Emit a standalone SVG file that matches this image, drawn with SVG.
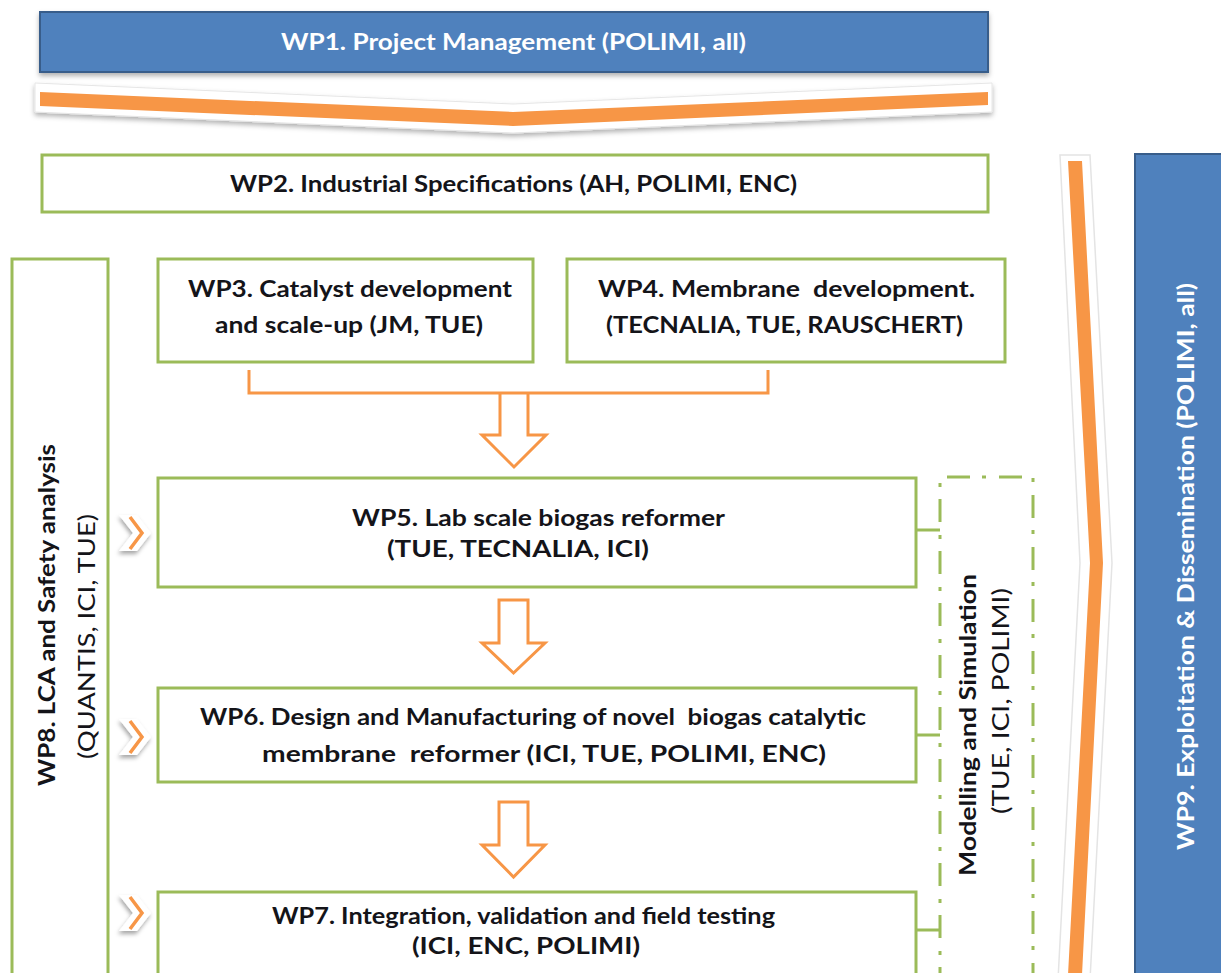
<svg xmlns="http://www.w3.org/2000/svg" width="1221" height="973" viewBox="0 0 1221 973">
  <defs>
    <filter id="shadow" x="-5%" y="-20%" width="110%" height="160%">
      <feDropShadow dx="0" dy="3" stdDeviation="2.5" flood-color="#000" flood-opacity="0.3"/>
    </filter>
    <filter id="chevShadow" x="-20%" y="-20%" width="150%" height="150%">
      <feDropShadow dx="-1" dy="3" stdDeviation="2" flood-color="#000" flood-opacity="0.35"/>
    </filter>
    <symbol id="chev" viewBox="0 0 36 38" width="36" height="38">
      <polygon points="2,1 20,1 34,19 20,37 2,37 16,19" fill="#fff"/>
      <polyline points="13,3 25,19 13,35" fill="none" stroke="#f79646" stroke-width="3.5"/>
    </symbol>
    <style>
      .box{fill:#fff;stroke:#9bbb59;stroke-width:3}
      .blue{fill:#4f81bd;stroke:#385d8a;stroke-width:2}
      .t{font-family:Lato,"Liberation Sans",sans-serif;font-weight:700;font-size:23px;fill:#141419;white-space:pre}
      .w{fill:#fff}
      .r{font-weight:400}
      .or{fill:none;stroke:#f79646;stroke-width:3}
      .dash{fill:none;stroke:#9bbb59;stroke-width:3;stroke-dasharray:23 12 4 13}
    </style>
  </defs>

  <rect width="1221" height="973" fill="#fff"/>

  <!-- WP1 banner -->
  <g id="wp1">
    <rect class="blue" x="40" y="12" width="948" height="60" filter="url(#shadow)"/>
    <text class="t w" x="281" y="50" textLength="465" lengthAdjust="spacingAndGlyphs">WP1. Project Management (POLIMI, all)</text>
  </g>

  <!-- management flow chevron under WP1 -->
  <g id="flow-top">
    <polygon points="35,83 513,104 992,83 992,112 513,133 35,112" fill="#fff" stroke="#e6e6e6" stroke-width="1" filter="url(#shadow)"/>
    <polygon points="40,92 513,112 988,92 988,105 513,126 40,106" fill="#f79646"/>
  </g>

  <!-- WP2 -->
  <g id="wp2">
    <rect class="box" x="42" y="155" width="946" height="57"/>
    <text class="t" x="230" y="192" textLength="567" lengthAdjust="spacingAndGlyphs">WP2. Industrial Specifications (AH, POLIMI, ENC)</text>
  </g>

  <!-- WP8 side column -->
  <g id="wp8">
    <rect class="box" x="12" y="259" width="96" height="730"/>
    <text class="t" transform="translate(55,786) rotate(-90)" textLength="342" lengthAdjust="spacingAndGlyphs">WP8. LCA and Safety analysis</text>
    <text class="t r" transform="translate(95,759) rotate(-90)" textLength="245" lengthAdjust="spacingAndGlyphs">(QUANTIS, ICI, TUE)</text>
  </g>

  <!-- WP3 -->
  <g id="wp3">
    <rect class="box" x="158" y="259" width="375" height="103"/>
    <text class="t" x="188" y="297" textLength="324" lengthAdjust="spacingAndGlyphs">WP3. Catalyst development</text>
    <text class="t" x="215" y="333" textLength="268" lengthAdjust="spacingAndGlyphs">and scale-up (JM, TUE)</text>
  </g>

  <!-- WP4 -->
  <g id="wp4">
    <rect class="box" x="567" y="259" width="438" height="103"/>
    <text class="t" x="598" y="297" textLength="377" lengthAdjust="spacingAndGlyphs">WP4. Membrane  development.</text>
    <text class="t" x="606" y="333" textLength="357" lengthAdjust="spacingAndGlyphs">(TECNALIA, TUE, RAUSCHERT)</text>
  </g>

  <!-- WP5 -->
  <g id="wp5">
    <rect class="box" x="158" y="478" width="758" height="109"/>
    <text class="t" x="352" y="526" textLength="373" lengthAdjust="spacingAndGlyphs">WP5. Lab scale biogas reformer</text>
    <text class="t" x="387" y="557" textLength="262" lengthAdjust="spacingAndGlyphs">(TUE, TECNALIA, ICI)</text>
  </g>

  <!-- WP6 -->
  <g id="wp6">
    <rect class="box" x="158" y="688" width="758" height="94"/>
    <text class="t" x="200" y="725" textLength="666" lengthAdjust="spacingAndGlyphs">WP6. Design and Manufacturing of novel  biogas catalytic</text>
    <text class="t" x="262" y="762" textLength="564" lengthAdjust="spacingAndGlyphs">membrane  reformer (ICI, TUE, POLIMI, ENC)</text>
  </g>

  <!-- WP7 -->
  <g id="wp7">
    <rect class="box" x="158" y="892" width="758" height="95"/>
    <text class="t" x="272" y="924" textLength="503" lengthAdjust="spacingAndGlyphs">WP7. Integration, validation and field testing</text>
    <text class="t" x="412" y="954" textLength="228" lengthAdjust="spacingAndGlyphs">(ICI, ENC, POLIMI)</text>
  </g>

  <!-- Modelling and Simulation (dash-dot frame) -->
  <g id="modelling">
    <path class="dash" d="M940 990 V477 H1033 V990"/>
    <text class="t" transform="translate(976,876) rotate(-90)" textLength="302" lengthAdjust="spacingAndGlyphs">Modelling and Simulation</text>
    <text class="t r" transform="translate(1009,814) rotate(-90)" textLength="226" lengthAdjust="spacingAndGlyphs">(TUE, ICI, POLIMI)</text>
  </g>

  <!-- WP9 side banner -->
  <g id="wp9">
    <rect class="blue" x="1135" y="154" width="100" height="840"/>
    <text class="t w" transform="translate(1194,850) rotate(-90)" textLength="567" lengthAdjust="spacingAndGlyphs">WP9. Exploitation &amp; Dissemination (POLIMI, all)</text>
  </g>

  <!-- connectors -->
  <g id="connectors">
    <!-- WP3/WP4 merge bracket and hollow arrow into WP5 -->
    <path class="or" d="M249 370 V393 H768 V370"/>
    <path class="or" d="M500 393 V435 H482 L514 467 L546 435 H528 V393"/>
    <!-- WP5 to WP6 -->
    <path class="or" d="M499 600 H528 V643 H545 L513.5 673 L482 643 H499 Z"/>
    <!-- WP6 to WP7 -->
    <path class="or" d="M499 802 H528 V845 H545 L513.5 877 L482 845 H499 Z"/>
    <!-- WP5-WP7 ties to modelling frame -->
    <path class="box" d="M916 530 H940 M916 735 H940 M916 930 H940" fill="none"/>
    <!-- WP8 feeds into WP5-WP7 -->
    <g filter="url(#chevShadow)">
      <use href="#chev" x="117" y="514"/>
      <use href="#chev" x="117" y="718"/>
      <use href="#chev" x="117" y="894"/>
    </g>
    <!-- dissemination flow beside WP9 -->
    <g>
      <polygon points="1060,155 1090,155 1112,563 1090,980 1058,980 1080,563" fill="#fff" stroke="#e4e4e4" stroke-width="1.5"/>
      <polygon points="1068,161 1082,161 1103,563 1082,975 1068,975 1090,563" fill="#f79646"/>
    </g>
  </g>
</svg>
